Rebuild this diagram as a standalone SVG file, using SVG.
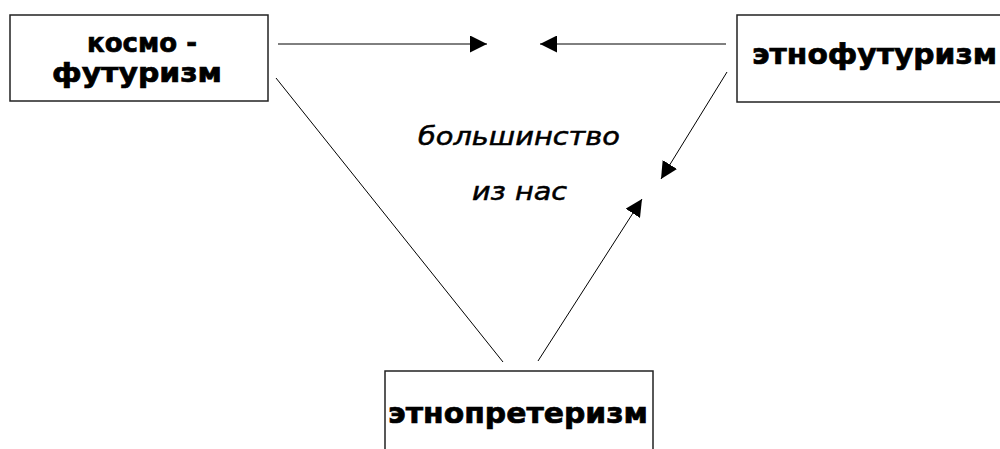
<svg xmlns="http://www.w3.org/2000/svg" width="1000" height="449" viewBox="0 0 1000 449">
  <style>
    .box { fill: #ffffff; stroke: #222222; stroke-width: 1.5; }
    .label { font-family: "DejaVu Sans", "Liberation Sans", sans-serif; font-weight: bold; fill: #000000; stroke: #000000; stroke-width: 0.7; }
    .note { font-family: "DejaVu Sans", "Liberation Sans", sans-serif; font-style: italic; fill: #000000; stroke: #000000; stroke-width: 0.5; }
    .link { stroke: #000000; stroke-width: 1; fill: none; }
  </style>
  <defs>
    <marker id="arrow" viewBox="0 0 10 10" refX="10" refY="5" markerWidth="17" markerHeight="17" markerUnits="userSpaceOnUse" orient="auto">
      <path d="M0,0 L10,5 L0,10 Z" fill="#000000"/>
    </marker>
  </defs>
  <rect width="1000" height="449" fill="#ffffff"/>

  <!-- arrows and the plain link between the three currents -->
  <g id="connectors">
    <line class="link" x1="278" y1="44" x2="487" y2="44" marker-end="url(#arrow)"/>
    <line class="link" x1="726" y1="44" x2="540" y2="44" marker-end="url(#arrow)"/>
    <line class="link" x1="727" y1="72" x2="661" y2="179" marker-end="url(#arrow)"/>
    <line class="link" x1="538" y1="361" x2="642" y2="199" marker-end="url(#arrow)"/>
    <line class="link" x1="276" y1="78" x2="503" y2="362"/>
  </g>

  <g id="kosmofuturizm">
    <rect class="box" x="10" y="15" width="258" height="86"/>
    <text class="label" x="87" y="52" font-size="27" textLength="110" lengthAdjust="spacingAndGlyphs">космо -</text>
    <text class="label" x="52" y="82" font-size="27" textLength="170" lengthAdjust="spacingAndGlyphs">футуризм</text>
  </g>

  <g id="etnofuturizm">
    <rect class="box" x="737" y="15" width="280" height="87"/>
    <text class="label" x="752" y="64" font-size="29" textLength="245" lengthAdjust="spacingAndGlyphs">этнофутуризм</text>
  </g>

  <g id="etnopreterizm">
    <rect class="box" x="385" y="371" width="268" height="100"/>
    <text class="label" x="388" y="423" font-size="29" textLength="260" lengthAdjust="spacingAndGlyphs">этнопретеризм</text>
  </g>

  <g id="majority">
    <text class="note" x="418" y="145" font-size="24" textLength="202" lengthAdjust="spacingAndGlyphs">большинство</text>
    <text class="note" x="472" y="200" font-size="24" textLength="95" lengthAdjust="spacingAndGlyphs">из нас</text>
  </g>
</svg>
